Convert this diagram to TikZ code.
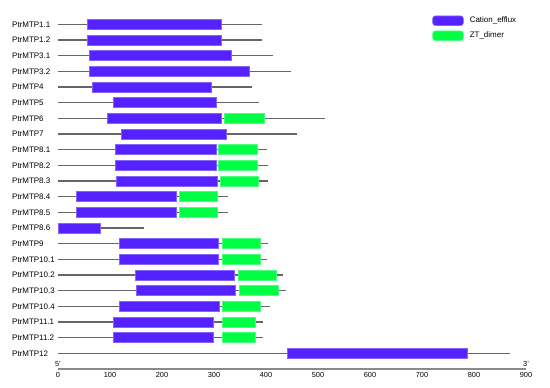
\documentclass[tikz,border=0pt]{standalone}
\usepackage{fontspec}
\setmainfont{Liberation Sans}
\usetikzlibrary{positioning}
\definecolor{cationazul}{HTML}{5522FF}
\definecolor{ztverde}{HTML}{00FF44}
\definecolor{espina}{HTML}{666666}
\definecolor{eje}{HTML}{8A8A8A}
\newcommand{\px}[1]{58+0.52*#1}
\tikzset{
  gen/.style={anchor=west, inner sep=0pt, font=\fontsize{8}{9.5}\selectfont},
  espinazo/.style={draw=espina, line width=1.1bp},
  cation/.style={fill=cationazul, draw=cationazul!70!white, line width=0.6bp},
  ztdim/.style={fill=ztverde, draw=ztverde!70!white, line width=0.6bp},
  leyenda/.style={rounded corners=2.5bp, minimum width=30.6bp, minimum height=9.5bp, inner sep=0pt},
  marca/.style={inner sep=0pt, font=\fontsize{7.4}{8}\selectfont},
}
\begin{document}
\begin{tikzpicture}[x=1bp, y=-1bp]
  \useasboundingbox (0,0) rectangle (550,387);
  % dominios por gen: nombre/longitud/cation ini/fin/ZT ini/fin
  \foreach \lbl/\len/\ca/\cb/\za/\zb [count=\i from 0] in {
    PtrMTP1.1/393/56/314/0/0, PtrMTP1.2/393/56/314/0/0,
    PtrMTP3.1/413/60/333/0/0, PtrMTP3.2/448/60/368/0/0,
    PtrMTP4/373/65/295/0/0, PtrMTP5/387/106/304/0/0,
    PtrMTP6/513/94/314/320/397, PtrMTP7/459/122/324/0/0,
    PtrMTP8.1/401/111/304/308/383, PtrMTP8.2/403/111/304/308/383,
    PtrMTP8.3/403/113/306/312/385, PtrMTP8.4/327/35/227/233/306,
    PtrMTP8.5/327/35/227/233/306, PtrMTP8.6/165/1/82/0/0,
    PtrMTP9/404/117/308/315/389, PtrMTP10.1/402/117/308/315/389,
    PtrMTP10.2/433/149/339/346/420, PtrMTP10.3/438/151/341/348/423,
    PtrMTP10.4/407/117/310/315/389, PtrMTP11.1/394/106/299/315/379,
    PtrMTP11.2/394/106/299/315/379, PtrMTP12/869/441/788/0/0}{
    \pgfmathsetmacro\yy{24.3+15.67*\i}
    \node[gen] (gen\i) at (12,\yy) {\lbl};
    \draw[espinazo] ({\px{0}},\yy) -- ({\px{\len}},\yy);
    \draw[cation] ({\px{\ca}},{\yy-5}) rectangle ({\px{\cb}},{\yy+5});
    \ifnum\za>0
      \draw[ztdim] ({\px{\za}},{\yy-5}) rectangle ({\px{\zb}},{\yy+5});
    \fi
  }
  % eje
  \coordinate (ejeini) at ({\px{0}},369);
  \coordinate (ejefin) at ({\px{900}},369);
  \draw[eje, line width=1.6bp] (ejeini) -- (ejefin);
  \foreach \t in {0,100,...,900}
    \node[marca] (tic\t) at ({\px{\t}},374.5) {\t};
  \node[marca, above left=2bp and -3bp of ejeini] (cinco) {5'};
  \node[marca, above right=2bp and -3bp of ejefin] (tres) {3'};
  % leyenda
  \node[cation, leyenda] (legcat) at (448,20.7) {};
  \node[gen, right=6bp of legcat] (legcattxt) {Cation\_efflux};
  \node[ztdim, leyenda] (legzt) at (448,35.7) {};
  \node[gen, right=6bp of legzt] (legzttxt) {ZT\_dimer};
\end{tikzpicture}
\end{document}
